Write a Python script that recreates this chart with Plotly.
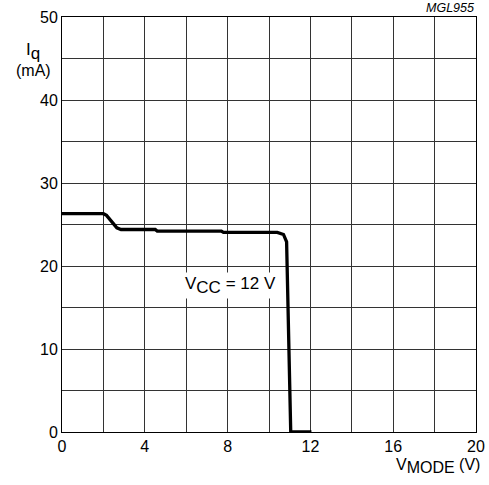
import plotly.graph_objects as go

v_mode = [0, 2.0, 2.15, 2.4, 2.65, 2.85, 4.5, 4.6, 7.7, 7.8, 10.4, 10.7, 10.85, 11.05, 11.5, 12.05]
i_q = [26.3, 26.3, 26.1, 25.3, 24.6, 24.4, 24.4, 24.2, 24.2, 24.05, 24.05, 23.8, 22.9, 0, 0, 0]

x_major = [0, 4, 8, 12, 16, 20]
x_minor = [2, 6, 10, 14, 18]
y_major = [0, 10, 20, 30, 40, 50]
y_minor = [5, 15, 25, 35, 45]

font = "Liberation Sans, Arial, sans-serif"
grid = "#333"

fig = go.Figure()
fig.add_trace(go.Scatter(x=v_mode, y=i_q, mode="lines",
                         line=dict(color="black", width=3.3), hoverinfo="skip"))

axis_common = dict(showgrid=True, gridcolor=grid, gridwidth=1,
                   showline=True, linecolor="black", linewidth=1, mirror=True,
                   zeroline=False, ticks="", automargin=False,
                   tickfont=dict(size=16))


def sub(t, size):
    return f"<sub><span style='font-size:{size}px'>{t}</span></sub>"


fig.update_layout(
    width=489, height=485,
    margin=dict(l=62, r=13, t=17, b=53),
    paper_bgcolor="white", plot_bgcolor="white",
    showlegend=False,
    font=dict(family=font, size=16, color="black"),
    xaxis=dict(range=[0, 20], tickvals=x_major,
               minor=dict(tickvals=x_minor, showgrid=True, gridcolor=grid, gridwidth=1, ticks=""),
               **axis_common),
    yaxis=dict(range=[0, 50], tickvals=y_major,
               minor=dict(tickvals=y_minor, showgrid=True, gridcolor=grid, gridwidth=1, ticks=""),
               **axis_common),
    annotations=[
        dict(text="I" + sub("q", 17), xref="paper", yref="paper", x=-0.07, y=0.918,
             xanchor="center", yanchor="middle", showarrow=False, font=dict(size=17)),
        dict(text="(mA)", xref="paper", yref="paper", x=-0.07, y=0.872,
             xanchor="center", yanchor="middle", showarrow=False, font=dict(size=16)),
        dict(text="V" + sub("MODE", 16) + " (V)", xref="paper", yref="paper", x=1.015, y=-0.082,
             xanchor="right", yanchor="middle", showarrow=False, font=dict(size=16)),
        dict(text="<i>MGL955</i>", xref="paper", yref="paper", x=1.0, y=1.0,
             xanchor="right", yanchor="bottom", showarrow=False, font=dict(size=12.5)),
        dict(text="V" + sub("CC", 17) + " = 12 V", x=8.15, y=17.6, xref="x", yref="y",
             xanchor="center", yanchor="middle", showarrow=False, font=dict(size=17),
             bgcolor="white"),
    ],
)

fig.write_html("out.html", config={"displayModeBar": False},
               post_script="document.body.style.margin='0';document.body.style.overflow='hidden';")
